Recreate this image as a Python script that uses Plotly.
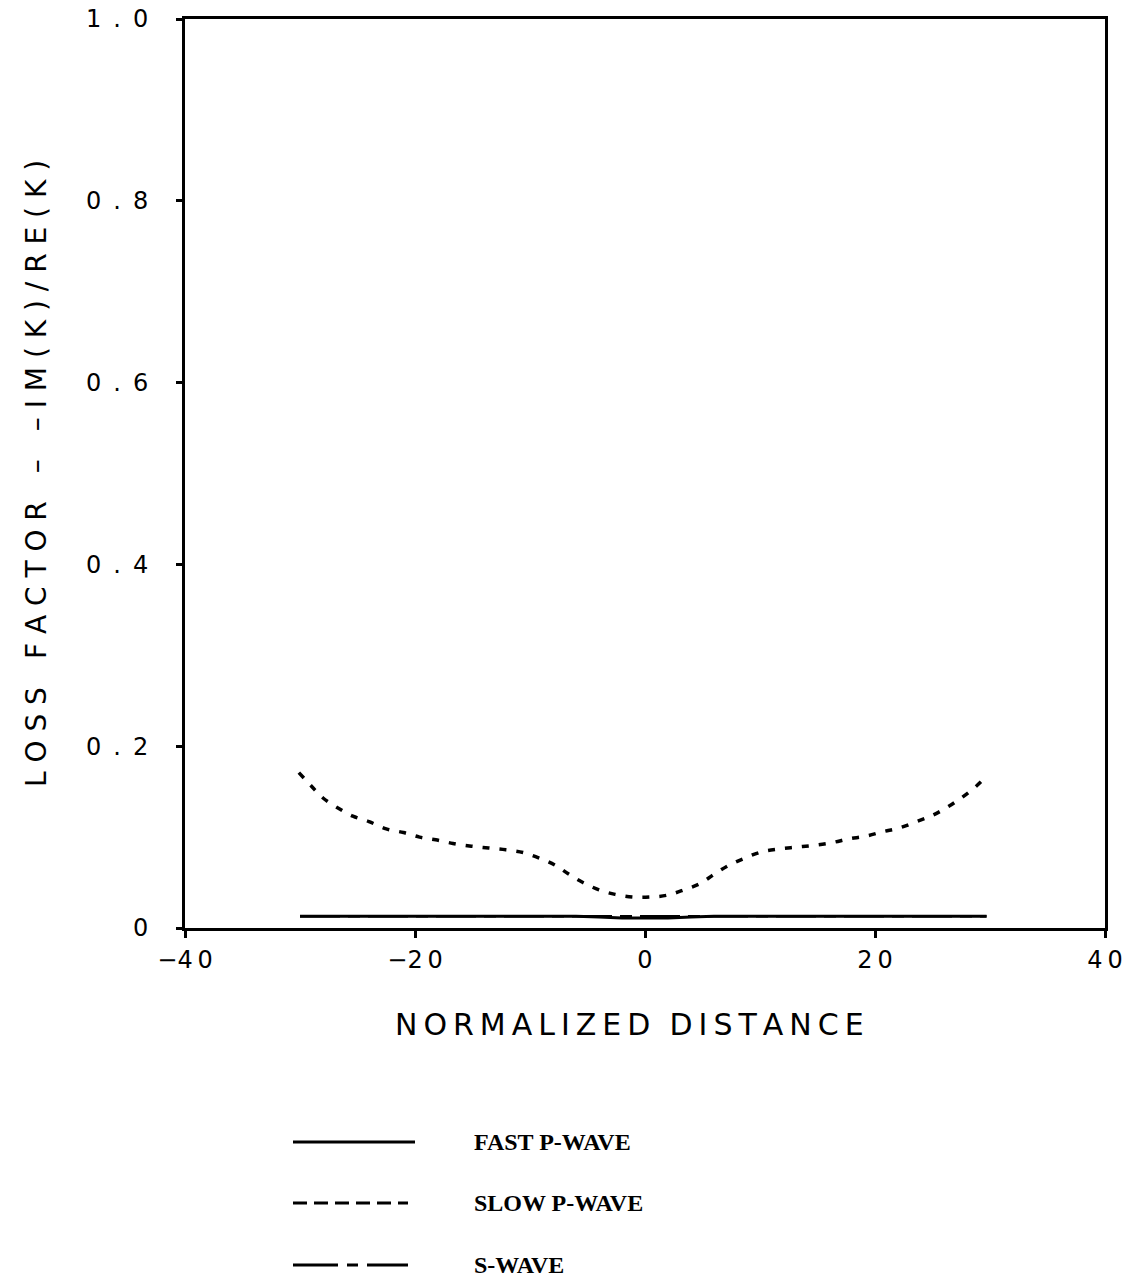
import plotly.graph_objects as go

# ---- data ----
slow_x = [-30.1, -29.0, -28.0, -26.7, -25.4, -24.0, -22.5, -21.0, -19.6, -18.2, -16.7, -15.1,
          -13.6, -12.1, -10.6, -9.2, -7.8, -6.6, -5.4, -4.0, -2.6, -1.0, 0.4, 1.9, 3.4, 4.8,
          6.0, 7.3, 8.7, 10.2, 11.7, 13.2, 14.7, 16.3, 17.7, 19.2, 20.7, 22.1, 23.6, 25.0,
          26.3, 27.6, 28.8, 29.7]
slow_y = [0.171, 0.156, 0.143, 0.132, 0.123, 0.117, 0.109, 0.105, 0.100, 0.097, 0.093, 0.090,
          0.088, 0.086, 0.083, 0.077, 0.069, 0.059, 0.050, 0.042, 0.037, 0.034, 0.034, 0.036,
          0.042, 0.049, 0.059, 0.069, 0.077, 0.084, 0.087, 0.089, 0.091, 0.094, 0.098, 0.101,
          0.106, 0.110, 0.117, 0.124, 0.133, 0.144, 0.156, 0.167]

fast_x = [-30, -20, -10, -6, -4, -2, 0, 2, 4, 6, 10, 20, 29.7]
fast_y = [0.013, 0.013, 0.013, 0.013, 0.012, 0.011, 0.011, 0.011, 0.012, 0.013, 0.013, 0.013, 0.013]

s_x = [-30, -20, -10, 0, 10, 20, 29.7]
s_y = [0.013, 0.013, 0.013, 0.013, 0.013, 0.013, 0.013]

x_ticks = [-40, -20, 0, 20, 40]
x_ticktext = ["\u22124\u20090", "\u22122\u20090", "0", "2\u20090", "4\u20090"]
y_ticks = [0, 0.2, 0.4, 0.6, 0.8, 1.0]
y_ticktext = ["0", "0\u2002.\u20022", "0\u2002.\u20024", "0\u2002.\u20026", "0\u2002.\u20028", "1\u2002.\u20020"]

legend_names = ["FAST P-WAVE", "SLOW P-WAVE", "S-WAVE"]

# page body has an 8px margin; work in reference pixel coords minus 8
OFF = 8
W, H = 1131 - OFF, 1282 - OFF
L = 185 - OFF
T = 19 - OFF
R = W - (1105 - OFF)
B = H - (928 - OFF)

fig = go.Figure()
fig.add_trace(go.Scatter(x=fast_x, y=fast_y, mode="lines", line=dict(color="black", width=3),
                         name=legend_names[0], showlegend=False))
fig.add_trace(go.Scatter(x=s_x, y=s_y, mode="lines",
                         line=dict(color="black", width=2.5, dash="40px,8px,12px,8px"),
                         name=legend_names[2], showlegend=False))
fig.add_trace(go.Scatter(x=slow_x, y=slow_y, mode="lines", line_shape="spline",
                         line=dict(color="black", width=3.5, dash="7px,10px"),
                         name=legend_names[1], showlegend=False))

tickfont = dict(family="DejaVu Sans", size=24, color="black")
fig.update_xaxes(range=[-40, 40], tickvals=x_ticks, ticktext=x_ticktext, tickfont=tickfont,
                 showgrid=False, zeroline=False, showline=True, linewidth=3, linecolor="black",
                 mirror=True, ticks="outside", ticklen=7, tickwidth=3, tickcolor="black",
                 ticklabelstandoff=1, ticklabeloverflow="allow", automargin=False)
fig.update_yaxes(range=[0, 1.0], tickvals=y_ticks, ticktext=y_ticktext, tickfont=tickfont,
                 showgrid=False, zeroline=False, showline=True, linewidth=3, linecolor="black",
                 mirror=True, ticks="outside", ticklen=6, tickwidth=3, tickcolor="black",
                 ticklabelstandoff=23, ticklabeloverflow="allow", automargin=False)

def px_x(p):
    return (p - OFF - L) / (W - L - R)

def px_y(p):
    return 1 - (p - OFF - T) / (H - T - B)

ts = "\u2009"
xt = ts.join(list("NORMALIZED")) + "  " + ts.join(list("DISTANCE"))
sp = " "
yt = sp.join(list("LOSS")) + "\u2002\u2002" + sp.join(list("FACTOR")) + "\u2002\u2002\u2013\u2002\u2002" + sp.join(list("\u2013IM(K)/RE(K)"))
fig.add_annotation(text=xt, x=px_x(629), y=px_y(1025), xref="paper", yref="paper",
                   showarrow=False, font=dict(family="DejaVu Sans", size=30, color="black"),
                   xanchor="center", yanchor="middle")
fig.add_annotation(text=yt, x=px_x(36), y=px_y(474), xref="paper", yref="paper",
                   showarrow=False, font=dict(family="DejaVu Sans", size=28, color="black"),
                   textangle=-90, xanchor="center", yanchor="middle")

# legend (drawn manually to match long sample lines)
leg_y = [1142, 1203, 1265]
leg_x1 = [415, 408, 408]
leg_dash = ["solid", "14px,7px", "45px,9px,11px,9px"]
for name, yy, x1, dsh in zip(legend_names, leg_y, leg_x1, leg_dash):
    fig.add_shape(type="line", xref="paper", yref="paper", x0=px_x(293), x1=px_x(x1),
                  y0=px_y(yy), y1=px_y(yy), line=dict(color="black", width=3, dash=dsh))
    fig.add_annotation(text="<b>%s</b>" % name, x=px_x(473), y=px_y(yy), xref="paper", yref="paper",
                       showarrow=False, xanchor="left", yanchor="middle", borderpad=0,
                       font=dict(family="Liberation Serif", size=24, color="black"))

fig.update_layout(width=W, height=H, margin=dict(l=L, r=R, t=T, b=B, autoexpand=False),
                  plot_bgcolor="white", paper_bgcolor="white", showlegend=False)
fig.write_html("out.html")
